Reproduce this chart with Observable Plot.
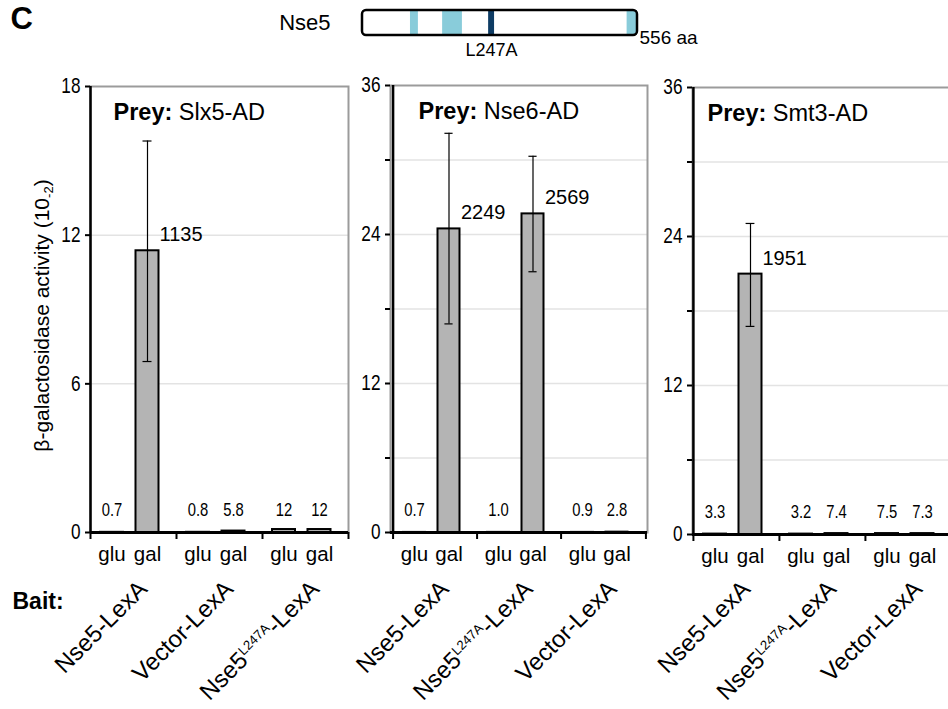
<!DOCTYPE html>
<html><head><meta charset="utf-8">
<script src="https://cdn.jsdelivr.net/npm/d3@7"></script>
<script src="https://cdn.jsdelivr.net/npm/@observablehq/plot@0.6"></script>
<style>
html,body{margin:0;padding:0;background:#fff;width:948px;height:709px;overflow:hidden;}
#fig{position:relative;width:948px;height:709px;}
#fig > svg{position:absolute;}
</style></head><body><div id="fig"></div>
<script>
// ---------- data ----------
const conditions = ["glu", "gal"];

// header: Nse5 domain diagram
const proteinName = "Nse5";
const proteinLength = 556;
const lengthLabel = "556 aa";
const domainStarts = [97, 162, 535];
const domainEnds = [113, 202, 556];
const mutationStart = 255;
const mutationEnd = 267;
const mutationLabel = "L247A";

// panel 1
const p1Prey = "Slx5-AD";
const p1Baits = ["Nse5-LexA", "Vector-LexA", "Nse5L247A-LexA"];
const p1Values = [0.007, 11.37, 0.008, 0.058, 0.12, 0.12];
const p1Labels = ["0.7", "1135", "0.8", "5.8", "12", "12"];
const p1ErrLow = [null, 6.9, null, null, null, null];
const p1ErrHigh = [null, 15.8, null, null, null, null];
const p1YMax = 18;
const p1YTicks = [0, 6, 12, 18];
const p1YTickLabels = [0, 6, 12, 18];

// panel 2
const p2Prey = "Nse6-AD";
const p2Baits = ["Nse5-LexA", "Nse5L247A-LexA", "Vector-LexA"];
const p2Values = [0.007, 24.45, 0.010, 25.66, 0.009, 0.028];
const p2Labels = ["0.7", "2249", "1.0", "2569", "0.9", "2.8"];
const p2ErrLow = [null, 16.8, null, 21.0, null, null];
const p2ErrHigh = [null, 32.15, null, 30.3, null, null];
const p2YMax = 36;
const p2YTicks = [0, 6, 12, 18, 24, 30, 36];
const p2YTickLabels = [0, 12, 24, 36];

// panel 3
const p3Prey = "Smt3-AD";
const p3Baits = ["Nse5-LexA", "Nse5L247A-LexA", "Vector-LexA"];
const p3Values = [0.033, 20.97, 0.032, 0.074, 0.075, 0.073];
const p3Labels = ["3.3", "1951", "3.2", "7.4", "7.5", "7.3"];
const p3ErrLow = [null, 16.76, null, null, null, null];
const p3ErrHigh = [null, 25.05, null, null, null, null];
const p3YMax = 36;
const p3YTicks = [0, 6, 12, 18, 24, 30, 36];
const p3YTickLabels = [0, 12, 24, 36];

const yAxisLabel = "β-galactosidase activity (10-2)";
const baitLabel = "Bait:";
const panelLetter = "C";

// ---------- styles ----------
const FONT = '"Liberation Sans", Arial, Helvetica, sans-serif';
const NARROW = '"Liberation Sans Narrow", "Liberation Sans", Arial, sans-serif';
const fig = document.getElementById("fig");

function place(svg, left, top) {
  svg.style.left = left + "px";
  svg.style.top = top + "px";
  fig.appendChild(svg);
  // condensed look for tick / small value labels
  d3.select(svg).selectAll('g[font-family*="Narrow"] text').each(function () {
    const len = this.getComputedTextLength();
    if (len > 0) {
      this.setAttribute("textLength", (len * 0.8).toFixed(2));
      this.setAttribute("lengthAdjust", "spacingAndGlyphs");
    }
  });
}

function decorate(svg) {
  d3.select(svg).selectAll("text").each(function () {
    const t = this.textContent;
    const sel = d3.select(this);
    if (this.querySelector("tspan")) return;
    if (t.startsWith("Prey:")) {
      sel.text(null);
      sel.append("tspan").attr("font-weight", "bold").text("Prey:");
      sel.append("tspan").text(t.slice(5));
    } else if (t.includes("L247A-")) {
      const [a, b] = t.split("L247A");
      sel.text(null);
      sel.append("tspan").text(a);
      sel.append("tspan").attr("font-size", "0.55em").attr("dy", "-0.62em").text("L247A");
      sel.append("tspan").attr("dy", "0.34em").attr("font-size", "1em").text(b);
    } else if (t.endsWith("(10-2)")) {
      sel.text(null);
      sel.append("tspan").text(t.slice(0, -3));
      sel.append("tspan").attr("font-size", "0.62em").attr("dy", "0.3em").text("-2");
      sel.append("tspan").attr("dy", "-0.19em").text(")");
    }
  });
  return svg;
}

// ---------- header ----------
{
  const segs = domainStarts.map((s, i) => ({s, e: domainEnds[i]}));
  const svg = Plot.plot({
    width: 710, height: 70,
    marginLeft: 362, marginRight: 73, marginTop: 10, marginBottom: 35,
    x: {domain: [0, proteinLength], axis: null},
    style: {background: "transparent", overflow: "visible", fontFamily: FONT, fontSize: "20px"},
    marks: [
      Plot.rect(segs, {x1: "s", x2: "e", fill: "#89ccda"}),
      Plot.rect([{s: mutationStart, e: mutationEnd}], {x1: "s", x2: "e", fill: "#0e3c64"}),
      Plot.rect([{s: 0, e: proteinLength}], {x1: "s", x2: "e", fill: "none", stroke: "#000", strokeWidth: 2.5, rx: 4}),
      Plot.text([proteinName], {frameAnchor: "left", dx: -32, textAnchor: "end", fontSize: 22}),
      Plot.text([lengthLabel], {frameAnchor: "bottom-right", dx: 2, dy: 8, textAnchor: "start", fontSize: 19}),
      Plot.text([mutationLabel], {x: (mutationStart + mutationEnd) / 2, frameAnchor: "bottom", dy: 20, fontSize: 18}),
      Plot.text([panelLetter], {frameAnchor: "left", dx: -352, dy: -4, textAnchor: "start", fontWeight: "bold", fontSize: 31})
    ]
  });
  place(svg, 0, 0);
}

// ---------- panels ----------
function makePanel(p, L) {
  const bw = (L.width - L.ml - L.mr) / 6;
  const dxOf = c => (c === "glu" ? 0 : -7.5);
  const rows = [];
  p.baits.forEach((b, g) => conditions.forEach((c, k) => {
    const i = g * 2 + k;
    rows.push({id: g + "-" + c, bait: b, cond: c, value: p.values[i], label: p.labels[i], lo: p.lo[i], hi: p.hi[i]});
  }));
  const ids = rows.map(r => r.id);
  const capInset = (bw - 9) / 2;
  const marks = [
    Plot.gridY({ticks: p.yTicks.filter(t => t > 0 && t < p.yMax), stroke: "#e3e3e3", strokeOpacity: 1, strokeWidth: 1.5}),
    Plot.frame({stroke: "#9b9b9b", strokeWidth: 2})
  ];
  for (const c of conditions) {
    const sub = rows.filter(r => r.cond === c);
    const dx = dxOf(c);
    const err = sub.filter(r => r.hi != null);
    marks.push(
      Plot.barY(sub, {x: "id", y: "value", dx, insetLeft: 10, insetRight: 10, fill: "#b4b4b4", stroke: "#000", strokeWidth: 2}),
      Plot.ruleX(err, {x: "id", y1: "lo", y2: "hi", dx, stroke: "#000", strokeWidth: 1.2}),
      Plot.tickY(err, {x: "id", y: "lo", dx, insetLeft: capInset, insetRight: capInset, stroke: "#000", strokeWidth: 1.2}),
      Plot.tickY(err, {x: "id", y: "hi", dx, insetLeft: capInset, insetRight: capInset, stroke: "#000", strokeWidth: 1.2}),
      Plot.text(sub.filter(r => r.value >= 5), {x: "id", y: "value", text: "label", dx: dx + 12, dy: -16, textAnchor: "start", fontSize: 20}),
      Plot.text(sub.filter(r => r.value < 5), {x: "id", text: "label", frameAnchor: "bottom", dx, dy: -17, fontSize: 18.5, fontFamily: NARROW}),
      Plot.text(sub, {x: "id", text: "cond", frameAnchor: "bottom", dx, dy: 28, fontSize: 20.5})
    );
  }
  marks.push(
    Plot.ruleY([0], {stroke: "#000", strokeWidth: 3}),
    Plot.ruleX([ids[0]], {dx: -bw / 2, stroke: "#000", strokeWidth: 2.5}),
    Plot.axisY({ticks: p.yTicks, tickSize: 5, tickPadding: 5, tickFormat: d => (p.yTickLabels.includes(d) ? String(d) : ""), fontSize: 21.5, fontFamily: NARROW, label: null, strokeWidth: 2}),
    Plot.axisX({ticks: ids.filter(id => id.endsWith("glu")), tickSize: 7, tickFormat: () => "", dx: -bw / 2, label: null, strokeWidth: 2}),
    Plot.axisX({ticks: [ids[ids.length - 1]], tickSize: 7, tickFormat: () => "", dx: bw / 2, label: null, strokeWidth: 2}),
    Plot.text(rows.filter(r => r.cond === "gal"), {x: "id", text: "bait", frameAnchor: "bottom", dx: -6.5, dy: L.baitDy, rotate: -45, textAnchor: "end", lineAnchor: "bottom", fontSize: 24}),
    Plot.text(["Prey: " + p.prey], {frameAnchor: "top-left", dx: L.titleDx, dy: 17, textAnchor: "start", fontSize: 23.5})
  );
  if (L.first) {
    marks.push(
      Plot.text([yAxisLabel], {frameAnchor: "left", rotate: -90, dx: -48, dy: 6, textAnchor: "middle", fontSize: 21}),
      Plot.text([baitLabel], {frameAnchor: "bottom-left", dx: -78, dy: 76, textAnchor: "start", lineAnchor: "bottom", fontWeight: "bold", fontSize: 23})
    );
  }
  const svg = Plot.plot({
    width: L.width, height: L.height,
    marginLeft: L.ml, marginRight: L.mr, marginTop: L.mt, marginBottom: L.mb,
    x: {type: "band", domain: ids, padding: 0, axis: null},
    y: {domain: [0, p.yMax], axis: null},
    style: {background: "transparent", overflow: "visible", fontFamily: FONT, fontSize: "20px", color: "#000"},
    marks
  });
  place(decorate(svg), L.left, L.top);
}

makePanel(
  {prey: p1Prey, baits: p1Baits, values: p1Values, labels: p1Labels, lo: p1ErrLow, hi: p1ErrHigh, yMax: p1YMax, yTicks: p1YTicks, yTickLabels: p1YTickLabels},
  {left: 0, top: 60, width: 370, height: 649, ml: 90, mr: 22, mt: 26, mb: 177, titleDx: 23, baitDy: 58, first: true}
);
makePanel(
  {prey: p2Prey, baits: p2Baits, values: p2Values, labels: p2Labels, lo: p2ErrLow, hi: p2ErrHigh, yMax: p2YMax, yTicks: p2YTicks, yTickLabels: p2YTickLabels},
  {left: 370, top: 60, width: 300, height: 649, ml: 20, mr: 23, mt: 25, mb: 177, titleDx: 28, baitDy: 58}
);
makePanel(
  {prey: p3Prey, baits: p3Baits, values: p3Values, labels: p3Labels, lo: p3ErrLow, hi: p3ErrHigh, yMax: p3YMax, yTicks: p3YTicks, yTickLabels: p3YTickLabels},
  {left: 670, top: 60, width: 300, height: 649, ml: 22, mr: 19, mt: 27, mb: 175, titleDx: 15, baitDy: 56}
);
</script></body></html>
